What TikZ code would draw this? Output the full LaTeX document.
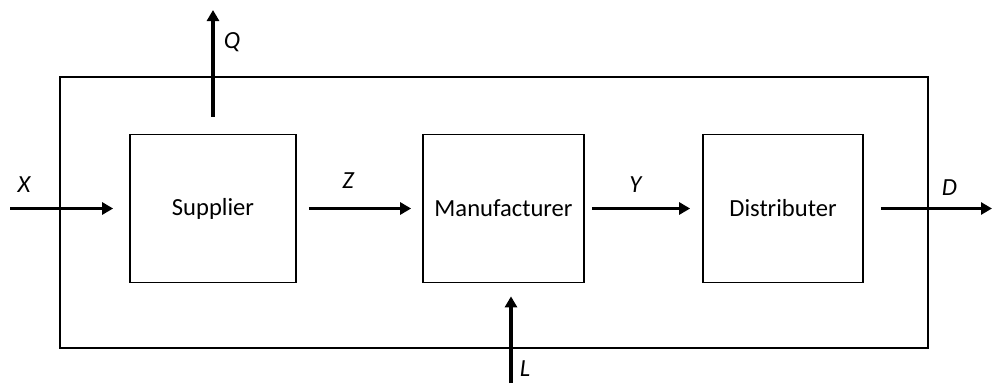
\documentclass[tikz,border=0pt]{standalone}
\usepackage{fontspec}
\setmainfont{Carlito}
\usetikzlibrary{arrows.meta}
\begin{document}
\begin{tikzpicture}[x=0.02cm,y=-0.02cm,
    block/.style={draw,line width=1pt,minimum width=3.22cm,minimum height=2.96cm,font=\fontsize{14}{17}\selectfont},
    flow/.style={line width=1.8pt,-{Triangle[length=0.22cm,width=0.24cm]}},
    var/.style={font=\fontsize{14}{17}\selectfont\itshape}]
    \useasboundingbox (0,0) rectangle (992,383);
    \node [draw,line width=1pt,minimum width=17.36cm,minimum height=5.42cm] (system) at (494,212.5) {};
    \node [block,minimum width=3.32cm] (supplier) at (213,208.5) {Supplier};
    \node [block] (manufacturer) at (503.5,208.5) {Manufacturer};
    \node [block,minimum width=3.2cm] (distributer) at (783,208.5) {Distributer};
    \coordinate (xin) at (10,208.5);
    \coordinate (qout) at (213,10);
    \coordinate (dout) at (992,208.5);
    \coordinate (lin) at (511,383);
    \draw [flow,shorten >=0.32cm] (xin) -- (supplier.west) node [var,pos=0.117,yshift=0.48cm] {X};
    \draw [flow,shorten <=0.34cm] (supplier.north) -- (qout) node [var,pos=0.742,xshift=0.38cm] {Q};
    \draw [flow,shorten <=0.24cm,shorten >=0.22cm] (supplier.east) -- (manufacturer.west) node [var,pos=0.41,yshift=0.56cm] {Z};
    \draw [flow,shorten <=0.14cm,shorten >=0.24cm] (manufacturer.east) -- (distributer.west) node [var,pos=0.43,yshift=0.48cm] {Y};
    \draw [flow,shorten <=0.34cm] (distributer.east) -- (dout) node [var,pos=0.667,yshift=0.42cm] {D};
    \draw [flow,shorten >=0.26cm] (lin) -- (lin |- manufacturer.south) node [var,pos=0.14,xshift=0.28cm] {L};
\end{tikzpicture}
\end{document}
